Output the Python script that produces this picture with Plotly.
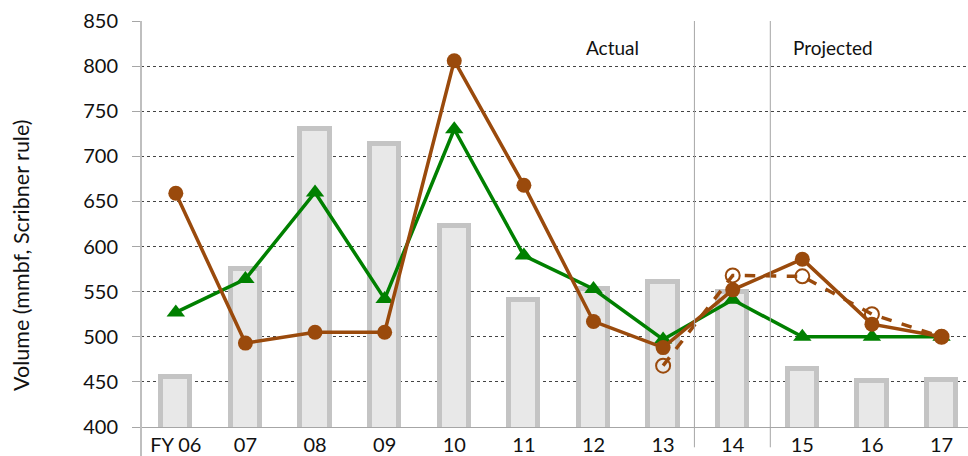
import plotly.graph_objects as go

years = ["FY 06", "07", "08", "09", "10", "11", "12", "13", "14", "15", "16", "17"]
harvest_bars = [455, 575, 730, 714, 623, 541, 553, 561, 550, 464, 451, 452]
green_series = [527, 564, 660, 542, 730, 590, 553, 497, 541, 500, 500, 500]
brown_series = [659, 493, 505, 505, 806, 668, 517, 488, 552, 586, 514, 500]
brown_alt_years = ["13", "14", "15", "16", "17"]
brown_alt_series = [468, 568, 567, 525, 500]

BROWN = "#9a4a0c"
GREEN = "#008000"
FONT = "Lato"
W, H = 968, 456
M_L, M_R, M_T, M_B = 141, 0, 21, 29

fig = go.Figure()

fig.add_trace(go.Bar(
    x=years, y=harvest_bars, width=0.42,
    marker=dict(color="#e8e8e8", line=dict(color="#c4c4c4", width=5)),
    showlegend=False, hoverinfo="skip",
))

fig.add_trace(go.Scatter(
    x=years, y=green_series, mode="lines+markers",
    line=dict(color=GREEN, width=3.5),
    marker=dict(symbol="triangle-up", size=16, color=GREEN),
    showlegend=False, cliponaxis=False,
))

fig.add_trace(go.Scatter(
    x=years, y=brown_series, mode="lines+markers",
    line=dict(color=BROWN, width=3.5),
    marker=dict(symbol="circle", size=15, color=BROWN),
    showlegend=False, cliponaxis=False,
))

fig.add_trace(go.Scatter(
    x=brown_alt_years, y=brown_alt_series, mode="lines+markers",
    line=dict(color=BROWN, width=3.5, dash="dash"),
    marker=dict(symbol="circle-open", size=14, color=BROWN, line=dict(width=2)),
    showlegend=False, cliponaxis=False,
))

# period separators
for xs in (7.45, 8.54):
    fig.add_shape(type="line", xref="x", yref="paper", x0=xs, x1=xs, y0=-0.05, y1=1,
                  line=dict(color="#a6a6a6", width=1))
# left axis extension below the category labels
fig.add_shape(type="line", xref="paper", yref="paper", x0=0, x1=0, y0=-0.08, y1=1,
              line=dict(color="#bfbfbf", width=2))

fig.add_annotation(x=6.27, y=821, text="Actual", showarrow=False,
                   font=dict(family=FONT, size=19, color="#111"))
fig.add_annotation(x=9.44, y=821, text="Projected", showarrow=False,
                   font=dict(family=FONT, size=19, color="#111"))

# y-axis title placed in pixel terms relative to the plot area
plot_w = W - M_L - M_R
plot_h = H - M_T - M_B
title_x_px, title_y_px = 21, 255
fig.add_annotation(
    xref="paper", yref="paper",
    x=(title_x_px - M_L) / plot_w, y=(H - M_B - title_y_px) / plot_h,
    text="Volume (mmbf, Scribner rule)", textangle=-90, showarrow=False,
    xanchor="center", yanchor="middle",
    font=dict(family=FONT, size=21.5, color="#111"),
)

fig.update_layout(
    width=W, height=H,
    margin=dict(l=M_L, r=M_R, t=M_T, b=M_B),
    plot_bgcolor="white", paper_bgcolor="white",
    bargap=0,
    font=dict(family=FONT, size=20, color="#111"),
    xaxis=dict(
        type="category", categoryorder="array", categoryarray=years,
        range=[-0.5, 11.38], showgrid=False,
        showline=True, linecolor="#a6a6a6", linewidth=1,
        ticks="", tickfont=dict(family=FONT, size=20, color="#111"),
        fixedrange=True,
    ),
    yaxis=dict(
        range=[400, 850], dtick=50, tick0=400,
        showgrid=True, gridcolor="#444", griddash="dot", gridwidth=1,
        showline=False, zeroline=False,
        ticks="outside", ticklen=8, tickcolor="#a6a6a6", tickwidth=1,
        ticklabelstandoff=10,
        tickfont=dict(family=FONT, size=20, color="#111"),
        fixedrange=True,
    ),
)

fig.write_html("out.html")
